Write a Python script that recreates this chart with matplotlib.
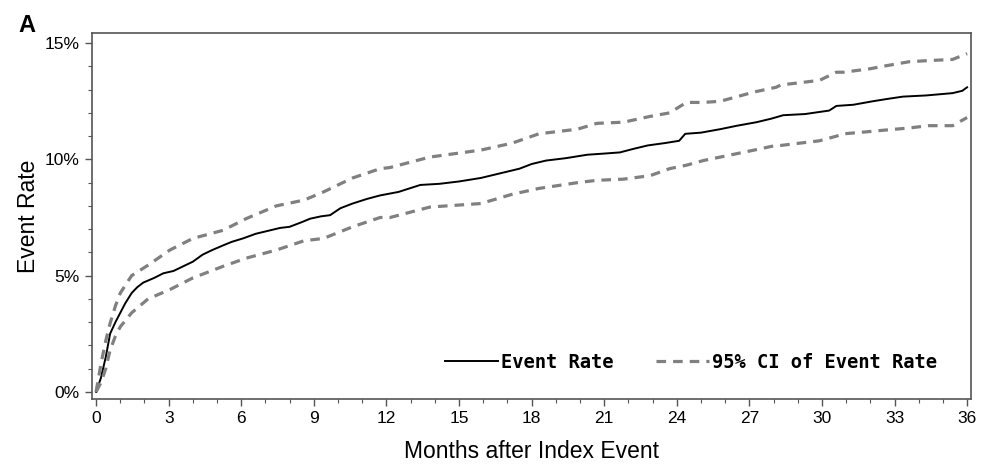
import matplotlib.pyplot as plt
from matplotlib.ticker import MultipleLocator, FuncFormatter

# months after index event and event rate (%)
rate_months = [0, 0.2, 0.4, 0.58, 0.8, 1.0, 1.2, 1.47, 1.7, 1.95, 2.4, 2.78, 3.2, 3.6, 4.0, 4.4,
               4.8, 5.25, 5.6, 6.07, 6.6, 7.2, 7.6, 8.0, 8.5, 8.85, 9.3, 9.67, 10.1, 10.6, 11.2,
               11.74, 12.5, 13.4, 14.2, 15.0, 15.9, 16.7, 17.5, 18.0, 18.6, 19.4, 20.3, 21.0,
               21.65, 22.2, 22.8, 23.5, 24.1, 24.35, 25.0, 25.8, 26.5, 27.3, 27.9, 28.4, 29.3,
               30.3, 30.6, 31.3, 32.1, 32.7, 33.35, 34.3, 35.4, 35.8, 36.0]
rate = [0.0, 0.6, 1.5, 2.5, 3.0, 3.4, 3.8, 4.25, 4.5, 4.7, 4.9, 5.1, 5.2, 5.4, 5.6, 5.9,
        6.1, 6.3, 6.45, 6.6, 6.8, 6.95, 7.05, 7.1, 7.3, 7.45, 7.55, 7.6, 7.9, 8.1, 8.3,
        8.45, 8.6, 8.9, 8.95, 9.05, 9.2, 9.4, 9.6, 9.8, 9.95, 10.05, 10.2, 10.25,
        10.3, 10.45, 10.6, 10.7, 10.8, 11.1, 11.15, 11.3, 11.45, 11.6, 11.75, 11.9, 11.95,
        12.1, 12.3, 12.35, 12.5, 12.6, 12.7, 12.75, 12.85, 12.95, 13.1]

ci_months = [0, 0.2, 0.4, 0.58, 0.8, 1.0, 1.47, 2.15, 3.05, 4.0, 5.25, 6.2, 7.45, 8.6, 9.4,
             10.6, 11.74, 12.15, 13.8, 15.9, 17.2, 18.3, 19.9, 20.7, 21.8, 22.9, 23.7, 24.4,
             25.1, 25.8, 26.5, 27.2, 28.1, 28.3, 29.9, 30.6, 30.9, 32.0, 32.5, 33.6, 34.4,
             35.4, 36.0]
ci_upper = [0.0, 1.2, 2.2, 2.95, 3.7, 4.25, 5.0, 5.45, 6.1, 6.6, 6.95, 7.45, 8.0, 8.25, 8.6,
            9.2, 9.6, 9.65, 10.1, 10.4, 10.7, 11.1, 11.3, 11.55, 11.6, 11.85, 12.0, 12.45,
            12.45, 12.5, 12.7, 12.9, 13.1, 13.2, 13.4, 13.75, 13.75, 13.9, 14.0, 14.2, 14.25,
            14.3, 14.55]
ci_lower = [0.0, 0.4, 1.0, 1.8, 2.4, 2.8, 3.4, 4.0, 4.4, 4.9, 5.4, 5.75, 6.1, 6.5, 6.6,
            7.1, 7.5, 7.5, 7.95, 8.1, 8.5, 8.75, 9.0, 9.1, 9.15, 9.3, 9.6, 9.75,
            9.95, 10.1, 10.25, 10.4, 10.6, 10.6, 10.8, 11.0, 11.1, 11.2, 11.25, 11.35, 11.45,
            11.45, 11.8]

x_ticks = list(range(0, 37, 3))
y_ticks = [0, 5, 10, 15]

fig = plt.figure(figsize=(9.89, 4.67), dpi=100)
ax = fig.add_axes([0.093, 0.146, 0.889, 0.783])

ax.plot(rate_months, rate, color="black", lw=1.4, label="Event Rate")
ax.plot(ci_months, ci_upper, color="#808080", lw=2.3, dashes=(3, 2.2),
        label="95% CI of Event Rate")
ax.plot(ci_months, ci_lower, color="#808080", lw=2.3, dashes=(3, 2.2))

ax.set_xlim(-0.17, 36.17)
ax.set_ylim(-0.3, 15.43)
ax.set_xticks(x_ticks)
ax.set_yticks(y_ticks)
ax.xaxis.set_minor_locator(MultipleLocator(1))
ax.yaxis.set_minor_locator(MultipleLocator(1))
ax.yaxis.set_major_formatter(FuncFormatter(lambda v, p: f"{v:.0f}%"))

for sp in ax.spines.values():
    sp.set_color("#555555")
    sp.set_linewidth(1.2)
ax.tick_params(which="major", length=5, width=1, color="#555555", labelsize=12.5, pad=4)
ax.tick_params(which="minor", length=3, width=0.8, color="#555555")
for lab in ax.get_xticklabels() + ax.get_yticklabels():
    lab.set_family("Liberation Sans")

ax.set_xlabel("Months after Index Event", fontsize=16.5, family="Liberation Sans", labelpad=10)
ax.set_ylabel("Event Rate", fontsize=16.5, family="Liberation Sans", labelpad=3)

leg = ax.legend(loc="center right", bbox_to_anchor=(0.98, 0.10), ncol=2, frameon=False,
                handlelength=2.8, handletextpad=0.15, columnspacing=2.3,
                prop={"family": "DejaVu Sans Mono", "weight": "bold", "size": 13.5})

fig.text(0.019, 0.932, "A", fontsize=17, fontweight="bold", family="Liberation Sans")

fig.savefig("out.png", dpi=100)
